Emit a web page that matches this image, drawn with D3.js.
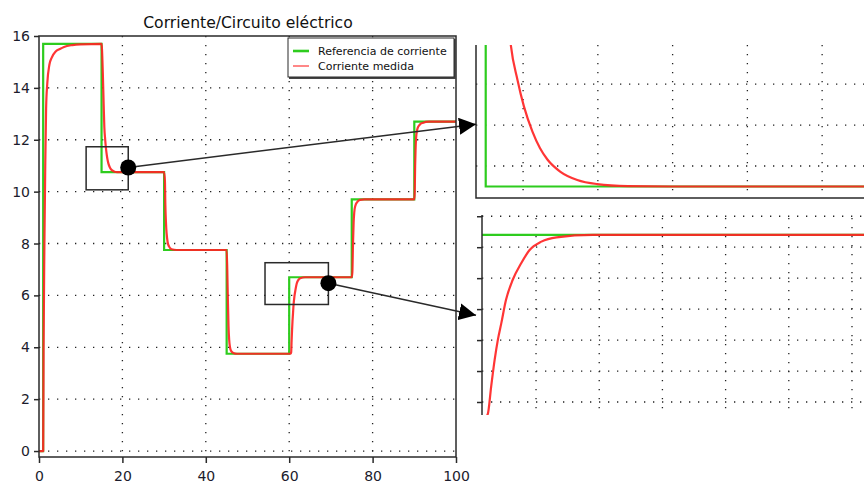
<!DOCTYPE html>
<html>
<head>
<meta charset="utf-8">
<script src="https://cdn.jsdelivr.net/npm/d3@7/dist/d3.min.js"></script>
<style>
  body { margin: 0; background: #fff; }
  svg { display: block; font-family: "DejaVu Sans", sans-serif; }
</style>
</head>
<body>
<svg id="chart" width="864" height="485"></svg>
<script>
// reference step (green)
var stepTimes = [0, 1, 15, 30, 45, 60, 75, 90, 100];
var refLevels = [0, 15.7, 10.75, 7.75, 3.75, 6.7, 9.7, 12.7, 12.7];

var measTime = [0, 1.0, 1.1, 1.3, 1.5, 1.7, 2.0, 2.5, 3.0, 4.0, 5.0, 6.0, 8.0, 10, 15,
  15.1, 15.3, 15.5, 15.67, 15.85, 16.02, 16.25, 16.45, 16.65, 17.0, 17.45, 17.98, 18.8, 20, 30,
  30.2, 30.3, 30.45, 30.6, 30.85, 31.2, 31.8, 33, 45,
  45.15, 45.3, 45.45, 45.6, 45.8, 46.1, 46.6, 47.5, 60,
  60.4, 60.47, 60.58, 60.69, 60.79, 60.9, 61.05, 61.26, 61.53, 61.79, 62.17, 62.65, 63.8, 75,
  75.15, 75.3, 75.45, 75.6, 75.85, 76.3, 77, 78, 90,
  90.1, 90.2, 90.3, 90.5, 90.8, 91.3, 92, 93.5, 100];
var measValue = [0, 0, 4, 8, 11, 13.2, 14.2, 14.9, 15.15, 15.4, 15.5, 15.58, 15.65, 15.68, 15.7,
  15.5, 14.6, 13.4, 12.48, 12.05, 11.73, 11.42, 11.22, 11.08, 10.93, 10.83, 10.78, 10.755, 10.75, 10.75,
  10.4, 9.5, 8.8, 8.4, 8.05, 7.88, 7.78, 7.75, 7.75,
  7.0, 5.8, 4.8, 4.3, 4.0, 3.85, 3.78, 3.75, 3.75,
  3.76, 3.8, 4.25, 4.68, 5.0, 5.27, 5.65, 5.97, 6.24, 6.45, 6.59, 6.66, 6.7, 6.7,
  6.9, 8.0, 8.8, 9.2, 9.45, 9.6, 9.68, 9.7, 9.7,
  10.0, 11.0, 11.6, 12.2, 12.45, 12.58, 12.65, 12.7, 12.7];

var xTicks = [0, 20, 40, 60, 80, 100];
var yTicks = [0, 2, 4, 6, 8, 10, 12, 14, 16];
var xGrid = [20, 40, 60, 80];
var yGrid = [0, 2, 4, 6, 8, 10, 12, 14];

var legendNames = ["Referencia de corriente", "Corriente medida"];

// zoom boxes on the main chart [t0, t1, v0, v1] and marker points [t, v]
var box1 = [11.3, 21.4, 10.07, 11.73];
var box2 = [54.2, 69.4, 5.65, 7.26];
var dot1 = [21.4, 10.93];
var dot2 = [69.4, 6.47];

// inset views
var in1Time = [14.74, 25.12], in1Value = [10.61, 12.476];
var in1GridT = [16, 18, 20, 22, 24], in1GridV = [11, 11.5, 12];
var in2Time = [60.29, 72.38], in2Value = [3.79, 7.02];
var in2GridT = [62, 64, 66, 68, 70, 72], in2GridV = [4, 4.5, 5, 5.5, 6, 6.5, 7];
var arrow1End = 11.51, arrow2End = 5.40;

var green = "#2ecc1e", red = "#ff2424", ink = "#2a2a2a";

var svg = d3.select("#chart");
var refPts = stepTimes.map(function(t, i){ return [t, refLevels[i]]; });
var measPts = measTime.map(function(t, i){ return [t, measValue[i]]; });

var defs = svg.append("defs");
defs.append("marker").attr("id", "arrow")
  .attr("viewBox", "0 -5 10 10").attr("refX", 10).attr("refY", 0)
  .attr("markerUnits", "userSpaceOnUse")
  .attr("markerWidth", 17).attr("markerHeight", 17).attr("orient", "auto")
  .append("path").attr("d", "M0,-5L10,0L0,5Z").attr("fill", "#000");

function clip(id, x0, y0, x1, y1){
  defs.append("clipPath").attr("id", id).append("rect")
    .attr("x", x0).attr("y", y0).attr("width", x1 - x0).attr("height", y1 - y0);
}

function dotted(g, x, y, xs, ys, xr, yr){
  g.selectAll(null).data(xs).enter().append("line")
    .attr("x1", function(d){ return x(d); }).attr("x2", function(d){ return x(d); })
    .attr("y1", yr[0]).attr("y2", yr[1]);
  g.selectAll(null).data(ys).enter().append("line")
    .attr("y1", function(d){ return y(d); }).attr("y2", function(d){ return y(d); })
    .attr("x1", xr[0]).attr("x2", xr[1]);
  g.selectAll("line").attr("stroke", "#222").attr("stroke-width", 1.3)
    .attr("stroke-dasharray", "1.3,7.7");
}

function curves(g, x, y){
  var step = d3.line().curve(d3.curveStepAfter)
    .x(function(d){ return x(d[0]); }).y(function(d){ return y(d[1]); });
  var smooth = d3.line().curve(d3.curveMonotoneX)
    .x(function(d){ return x(d[0]); }).y(function(d){ return y(d[1]); });
  g.append("path").datum(refPts).attr("d", step)
    .attr("fill", "none").attr("stroke", green).attr("stroke-width", 2.2);
  g.append("path").datum(measPts).attr("d", smooth)
    .attr("fill", "none").attr("stroke", red).attr("stroke-width", 2.2)
    .attr("stroke-linejoin", "round").attr("opacity", 0.92);
}

// ---------- main chart ----------
var x = d3.scaleLinear().domain([0, 100]).range([39, 456]);
var y = d3.scaleLinear().domain([-0.23, 16]).range([457, 36]);

dotted(svg.append("g"), x, y, xGrid, yGrid, [39, 456], [36, 457]);

clip("clipMain", 39, 36, 456, 457);
curves(svg.append("g").attr("clip-path", "url(#clipMain)"), x, y);

svg.append("rect").attr("x", 39).attr("y", 36).attr("width", 417).attr("height", 421)
  .attr("fill", "none").attr("stroke", ink).attr("stroke-width", 1.5);

var ax = svg.append("g").attr("transform", "translate(0,457)")
  .call(d3.axisBottom(x).tickValues(xTicks).tickSize(6).tickPadding(8));
var ay = svg.append("g").attr("transform", "translate(39,0)")
  .call(d3.axisLeft(y).tickValues(yTicks).tickSize(5).tickPadding(4));
[ax, ay].forEach(function(a){
  a.select(".domain").remove();
  a.selectAll("line").attr("stroke", ink).attr("stroke-width", 1.5);
  a.selectAll("text").attr("font-size", 14).attr("fill", "#1c1c2c")
    .attr("font-family", "DejaVu Sans, sans-serif");
});

svg.append("text").attr("x", 248).attr("y", 28).attr("text-anchor", "middle")
  .attr("font-size", 15.6).attr("fill", "#111").text("Corriente/Circuito eléctrico");

// legend
var lg = svg.append("g");
lg.append("rect").attr("x", 289).attr("y", 39).attr("width", 167).attr("height", 40)
  .attr("fill", "#444");
lg.append("rect").attr("x", 288).attr("y", 38).attr("width", 166).attr("height", 39)
  .attr("fill", "#fff").attr("stroke", ink).attr("stroke-width", 1);
var legendColors = [green, "#ff6a6a"], legendWidths = [2.6, 1.6];
legendNames.forEach(function(name, i){
  var ly = 51 + i * 15;
  lg.append("line").attr("x1", 293).attr("x2", 309).attr("y1", ly).attr("y2", ly)
    .attr("stroke", legendColors[i]).attr("stroke-width", legendWidths[i]);
  lg.append("text").attr("x", 318).attr("y", ly + 4).attr("font-size", 11)
    .attr("fill", "#111").text(name);
});

// zoom boxes
[box1, box2].forEach(function(b){
  svg.append("rect").attr("x", x(b[0])).attr("y", y(b[3]))
    .attr("width", x(b[1]) - x(b[0])).attr("height", y(b[2]) - y(b[3]))
    .attr("fill", "none").attr("stroke", ink).attr("stroke-width", 1.5);
});

// ---------- inset 1 ----------
var x1 = d3.scaleLinear().domain(in1Time).range([476, 864]);
var y1 = d3.scaleLinear().domain(in1Value).range([198, 45]);
clip("clip1", 476, 45, 864, 198);
dotted(svg.append("g"), x1, y1, in1GridT, in1GridV, [476, 864], [45, 198]);
curves(svg.append("g").attr("clip-path", "url(#clip1)"), x1, y1);
svg.append("path").attr("d", "M" + x1(in1Time[0]) + "," + y1(in1Value[1]) +
    "V" + y1(in1Value[0]) + "H" + x1(in1Time[1]))
  .attr("fill", "none").attr("stroke", ink).attr("stroke-width", 1.5);

// ---------- inset 2 ----------
var x2 = d3.scaleLinear().domain(in2Time).range([482, 864]);
var y2 = d3.scaleLinear().domain(in2Value).range([415, 215]);
clip("clip2", 482, 215, 864, 415);
dotted(svg.append("g"), x2, y2, in2GridT, in2GridV, [482, 864], [218, 412]);
curves(svg.append("g").attr("clip-path", "url(#clip2)"), x2, y2);
var ay2 = svg.append("g").attr("transform", "translate(482,0)")
  .call(d3.axisLeft(y2).tickValues(in2GridV).tickSize(5).tickFormat(""));
ay2.select(".domain").attr("d", "M0," + y2(in2Value[0]) + "V" + y2(in2Value[1]));
ay2.selectAll("path,line").attr("stroke", ink).attr("stroke-width", 1.5);

// ---------- arrows ----------
var arrows = [
  [x(dot1[0]), y(dot1[1]), x1(in1Time[0]), y1(arrow1End)],
  [x(dot2[0]), y(dot2[1]), x2(in2Time[0]) - 6, y2(arrow2End)]
];
arrows.forEach(function(a){
  svg.append("line").attr("x1", a[0]).attr("y1", a[1]).attr("x2", a[2]).attr("y2", a[3])
    .attr("stroke", ink).attr("stroke-width", 1.5).attr("marker-end", "url(#arrow)");
});
[dot1, dot2].forEach(function(d){
  svg.append("circle").attr("cx", x(d[0])).attr("cy", y(d[1])).attr("r", 8).attr("fill", "#000");
});
</script>
</body>
</html>
